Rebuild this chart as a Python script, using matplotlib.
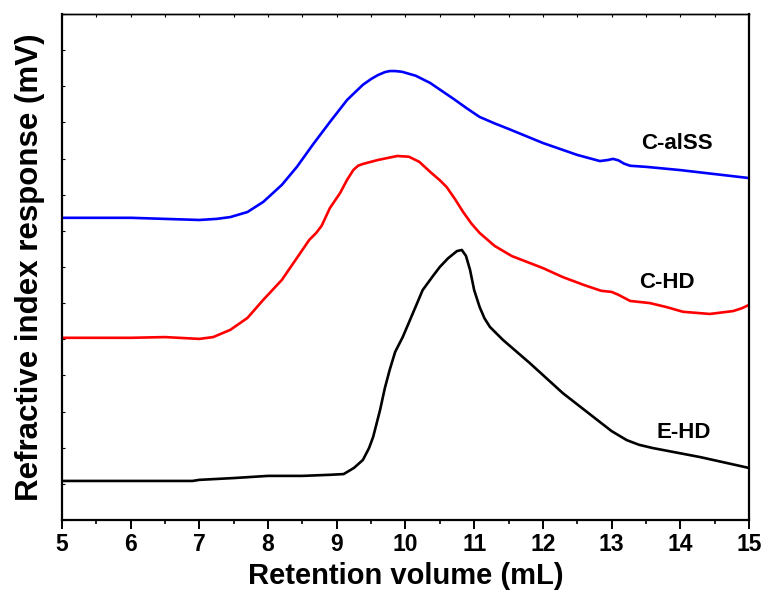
import matplotlib.pyplot as plt
from matplotlib.ticker import MultipleLocator, NullFormatter

plt.rcParams['font.family'] = ['Liberation Sans', 'DejaVu Sans']
plt.rcParams['font.weight'] = 'bold'

# retention volume (mL) and detector response (arbitrary offsets, mV)
x_alss = [5.0, 5.5, 6.0, 6.5, 7.0, 7.25, 7.45, 7.7, 7.93, 8.2, 8.42, 8.65, 8.9, 9.15, 9.38,
          9.5, 9.6, 9.7, 9.77, 9.85, 9.95, 10.15, 10.36, 10.7, 10.9, 11.08, 11.3, 11.5, 12.0,
          12.5, 12.83, 12.95, 13.02, 13.1, 13.18, 13.27, 13.5, 14.0, 14.5, 15.0]
y_alss = [8.36, 8.36, 8.36, 8.33, 8.30, 8.33, 8.38, 8.52, 8.80, 9.27, 9.77, 10.38, 11.01,
          11.62, 12.04, 12.20, 12.31, 12.39, 12.42, 12.42, 12.40, 12.29, 12.09, 11.65, 11.38,
          11.15, 10.97, 10.82, 10.43, 10.10, 9.93, 9.96, 9.99, 9.95, 9.86, 9.80, 9.77, 9.68,
          9.57, 9.46]

x_chd = [5.0, 5.5, 6.0, 6.5, 7.0, 7.2, 7.45, 7.7, 7.93, 8.2, 8.42, 8.6, 8.7, 8.78, 8.9,
         9.05, 9.15, 9.24, 9.31, 9.38, 9.6, 9.88, 10.05, 10.2, 10.36, 10.5, 10.6, 10.72,
         10.84, 10.96, 11.08, 11.3, 11.55, 12.0, 12.29, 12.6, 12.85, 13.0, 13.1, 13.27,
         13.56, 13.8, 14.04, 14.43, 14.77, 14.9, 15.0]
y_chd = [5.04, 5.04, 5.04, 5.06, 5.01, 5.06, 5.26, 5.59, 6.09, 6.64, 7.25, 7.75, 7.94, 8.14,
         8.63, 9.05, 9.41, 9.68, 9.80, 9.85, 9.96, 10.07, 10.05, 9.91, 9.63, 9.40, 9.21,
         8.88, 8.52, 8.20, 7.94, 7.58, 7.30, 6.97, 6.72, 6.50, 6.34, 6.31, 6.23, 6.06, 6.00,
         5.89, 5.76, 5.70, 5.78, 5.86, 5.95]

x_ehd = [5.0, 5.5, 6.0, 6.5, 6.9, 7.0, 7.5, 8.0, 8.5, 8.9, 9.1, 9.25, 9.38, 9.47, 9.53,
         9.63, 9.7, 9.77, 9.85, 9.96, 10.11, 10.25, 10.4, 10.5, 10.62, 10.75, 10.82, 10.88,
         10.94, 11.0, 11.08, 11.15, 11.23, 11.42, 11.81, 12.29, 12.79, 13.0, 13.22, 13.4,
         13.6, 14.29, 15.0]
y_ehd = [1.08, 1.08, 1.08, 1.08, 1.08, 1.11, 1.16, 1.22, 1.22, 1.25, 1.27, 1.44, 1.66, 1.99,
         2.30, 3.04, 3.65, 4.15, 4.65, 5.06, 5.73, 6.36, 6.75, 7.00, 7.24, 7.44, 7.47, 7.31,
         6.92, 6.36, 5.89, 5.58, 5.34, 4.98, 4.34, 3.51, 2.77, 2.46, 2.21, 2.08, 1.99, 1.74,
         1.44]

labels = ['C-alSS', 'C-HD', 'E-HD']
label_pos = [(13.95, 10.42), (13.8, 6.56), (14.05, 2.42)]

fig = plt.figure(figsize=(7.68, 6.01), dpi=100)
ax = fig.add_axes([0.0807, 0.1348, 0.8945, 0.842])

ax.plot(x_alss, y_alss, color='#0000ff', lw=1.9, solid_joinstyle='round')
ax.plot(x_chd, y_chd, color='#ff0000', lw=1.9, solid_joinstyle='round')
ax.plot(x_ehd, y_ehd, color='black', lw=1.9, solid_joinstyle='round')

for text, (tx, ty) in zip(labels, label_pos):
    ax.text(tx, ty, text, fontsize=16, fontweight='bold', ha='center', va='center')

ax.set_xlim(5, 15)
ax.set_ylim(0, 14)
ax.xaxis.set_major_locator(MultipleLocator(1))
ax.xaxis.set_minor_locator(MultipleLocator(0.5))
ax.yaxis.set_major_locator(MultipleLocator(1))
ax.yaxis.set_major_formatter(NullFormatter())

ax.tick_params(axis='x', which='major', direction='out', length=6.5, width=1.4,
               labelsize=16.5, pad=3)
ax.tick_params(axis='x', which='minor', direction='out', length=3, width=1.2)
ax.tick_params(axis='y', which='major', direction='in', length=2.5, width=0.8)
for lab in ax.get_xticklabels():
    lab.set_fontweight('bold')

# small inward ticks on the top frame
top = ax.secondary_xaxis('top')
top.xaxis.set_major_locator(MultipleLocator(0.5))
top.tick_params(direction='in', length=2.5, width=0.8, labeltop=False)
top.spines['top'].set_linewidth(1.0)

for side in ['left', 'bottom', 'right']:
    ax.spines[side].set_linewidth(1.6)
ax.spines['top'].set_linewidth(1.0)

ax.set_xlabel('Retention volume (mL)', fontsize=21, fontweight='bold', labelpad=4)
ax.set_ylabel('Refractive index response (mV)', fontsize=22.5, fontweight='bold', labelpad=9)

fig.savefig('out.png', dpi=100)
